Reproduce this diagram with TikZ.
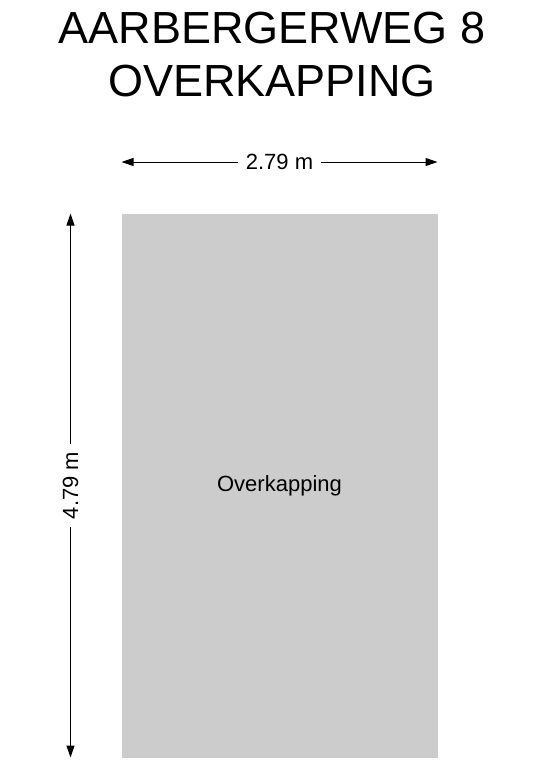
\documentclass[tikz,border=0pt]{standalone}
\usepackage{fontspec}
\setmainfont{Liberation Sans}
\usetikzlibrary{arrows.meta}
\tikzset{
	dim/.style={line width=1pt,{Triangle[length=12pt,width=8pt]}-{Triangle[length=12pt,width=8pt]}},
	dimlabel/.style={fill=white,inner xsep=8pt,inner ysep=2pt,font=\fontsize{22}{26}\selectfont},
	roof/.style={fill={rgb,255:red,204;green,204;blue,204},inner sep=0pt,minimum width=316pt,minimum height=544pt,font=\fontsize{22}{26}\selectfont}
}
\begin{document}
\begin{tikzpicture}[x=1pt,y=-1pt]
	\useasboundingbox (0,0) rectangle (543,768);
	\node[anchor=base,font=\fontsize{45}{50}\selectfont] (title1) at (272,44) {AARBERGERWEG 8};
	\node[anchor=base,font=\fontsize{45}{50}\selectfont] (title2) at (272,96) {OVERKAPPING};
	\node[roof] (roof) at (279.5,485.5) {Overkapping};
	\path
	(121.5,162) coordinate (L)
	(437.5,162) coordinate (R)
	(70.5,213.5) coordinate (T)
	(70.5,757.5) coordinate (B);
	\draw[dim] (L) -- node[dimlabel] (width) {2.79 m} (R);
	\draw[dim] (B) -- node[dimlabel,rotate=90] (depth) {4.79 m} (T);
\end{tikzpicture}
\end{document}
